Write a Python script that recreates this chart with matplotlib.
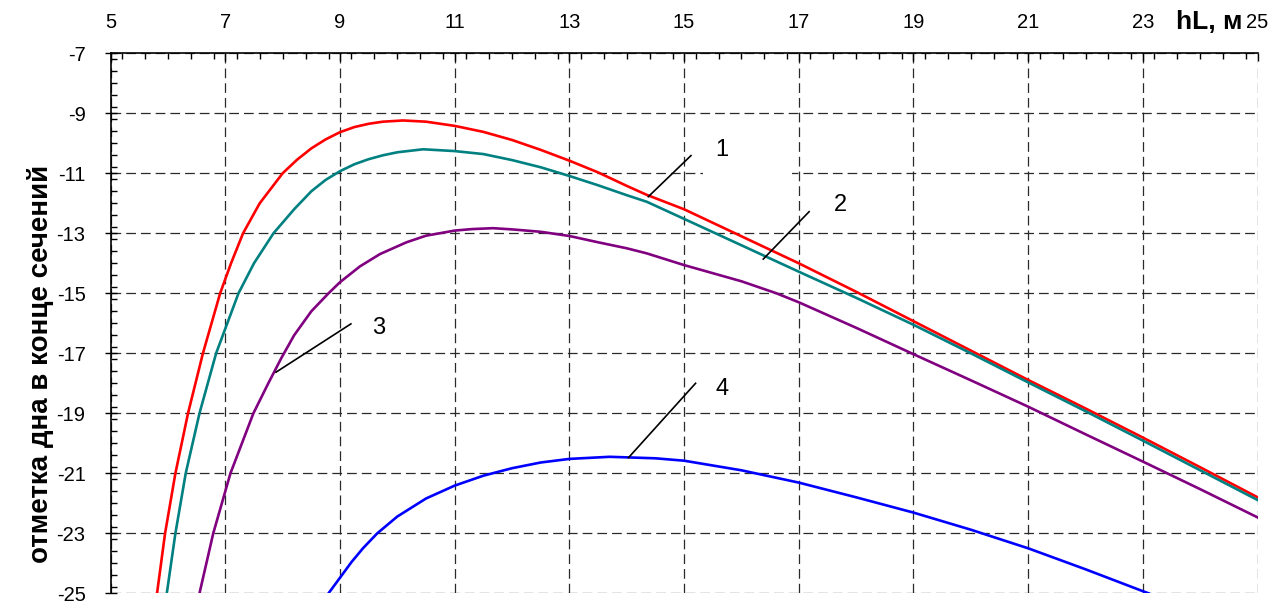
import matplotlib
matplotlib.use("Agg")
import matplotlib.pyplot as plt
from matplotlib.ticker import MultipleLocator
from matplotlib.patches import Rectangle

plt.rcParams['font.family'] = ['Liberation Sans', 'DejaVu Sans']
plt.rcParams['lines.scale_dashes'] = False
plt.rcParams['axes.unicode_minus'] = False

# ---- data ----
x1 = [5.81, 5.95, 6.13, 6.35, 6.61, 6.91, 7.1, 7.31, 7.6, 8.0, 8.25, 8.5, 8.75, 9.0, 9.25,
      9.5, 9.75, 10.1, 10.5, 11.0, 11.5, 12.0, 12.5, 13.0, 13.5, 14.0, 14.35, 15.0, 16.0,
      17.0, 18.0, 19.0, 20.0, 21.0, 22.0, 23.0, 24.0, 25.0]
y1 = [-25, -23, -21, -19, -17, -15, -14.0, -13.0, -12.0, -11.0, -10.55, -10.17, -9.87, -9.63,
      -9.46, -9.35, -9.28, -9.24, -9.28, -9.42, -9.62, -9.89, -10.22, -10.58, -10.97, -11.42,
      -11.72, -12.2, -13.1, -14.0, -14.95, -15.93, -16.91, -17.89, -18.84, -19.81, -20.8, -21.8]

x2 = [5.98, 6.13, 6.31, 6.55, 6.84, 7.23, 7.5, 7.84, 8.2, 8.5, 8.75, 9.0, 9.25, 9.5, 9.75,
      10.0, 10.45, 11.0, 11.5, 12.0, 12.5, 13.0, 13.5, 14.0, 14.35, 15.0, 16.0, 17.0, 18.0,
      19.0, 20.0, 21.0, 22.0, 23.0, 24.0, 25.0]
y2 = [-25, -23, -21, -19, -17, -15, -14.0, -13.0, -12.2, -11.6, -11.22, -10.93, -10.7, -10.53,
      -10.4, -10.3, -10.2, -10.26, -10.36, -10.56, -10.8, -11.09, -11.4, -11.73, -11.95,
      -12.52, -13.4, -14.28, -15.15, -16.05, -17.0, -17.97, -18.93, -19.91, -20.9, -21.89]

x3 = [6.55, 6.79, 7.0, 7.09, 7.3, 7.49, 7.75, 7.98, 8.2, 8.5, 8.8, 9.0, 9.35, 9.7, 10.16,
      10.5, 11.0, 11.3, 11.67, 12.0, 12.5, 13.0, 13.5, 14.0, 14.35, 15.0, 16.0, 16.61, 17.0,
      18.0, 19.0, 20.0, 21.0, 22.0, 23.0, 24.0, 25.0]
y3 = [-25, -23, -21.6, -21, -19.95, -19, -18.0, -17.15, -16.4, -15.6, -15.0, -14.63, -14.1,
      -13.69, -13.3, -13.08, -12.91, -12.86, -12.83, -12.87, -12.95, -13.09, -13.3, -13.5,
      -13.67, -14.06, -14.6, -15.0, -15.3, -16.15, -17.03, -17.9, -18.78, -19.7, -20.61,
      -21.53, -22.47]

x4 = [8.80, 9.0, 9.2, 9.4, 9.65, 10.0, 10.5, 11.0, 11.5, 12.0, 12.5, 13.0, 13.7, 14.5, 15.0,
      16.0, 17.0, 18.0, 19.0, 20.0, 21.0, 22.0, 23.0, 23.1]
y4 = [-25, -24.48, -23.96, -23.5, -23.0, -22.44, -21.84, -21.41, -21.08, -20.83, -20.64,
      -20.52, -20.45, -20.5, -20.58, -20.9, -21.31, -21.8, -22.31, -22.88, -23.5, -24.2,
      -24.93, -25.0]

series = [(x1, y1, '#ff0000'), (x2, y2, '#008080'), (x3, y3, '#800080'), (x4, y4, '#0000ff')]

labels = ['1', '2', '3', '4']
lead_start = [(14.376, -11.78), (16.38, -13.86), (7.884, -17.63), (14.03, -20.48)]
lead_end = [(15.12, -10.41), (17.18, -12.28), (9.19, -16.02), (15.20, -18.0)]
label_pos = [(15.55, -10.22), (17.62, -12.06), (9.56, -16.17), (15.54, -18.19)]

xticks = [5, 7, 9, 11, 13, 15, 17, 19, 21, 23, 25]
yticks = [-7, -9, -11, -13, -15, -17, -19, -21, -23, -25]

# ---- figure ----
fig = plt.figure(figsize=(12.83, 6.04), dpi=100)
ax = fig.add_axes([0.0862, 0.0177, 0.9802 - 0.0862, 0.9118 - 0.0177])
ax.set_xlim(5, 25)
ax.set_ylim(-25, -7)
ax.set_axisbelow(True)

for xs, ys, c in series:
    ax.plot(xs, ys, color=c, lw=1.9, solid_joinstyle='round', zorder=3)

# white text box around label 1 (breaks the grid line as in the reference)
ax.add_patch(Rectangle((15.33, -11.45), 1.55, 1.0, facecolor='white', edgecolor='none', zorder=1))

for lab, s, e, p in zip(labels, lead_start, lead_end, label_pos):
    ax.plot([s[0], e[0]], [s[1], e[1]], color='black', lw=1.2, zorder=4)
    ax.text(p[0], p[1], lab, fontsize=17, ha='left', va='center', zorder=5)

ax.xaxis.tick_top()
ax.set_xticks(xticks)
ax.set_yticks(yticks)
ax.xaxis.set_minor_locator(MultipleLocator(0.4))
ax.yaxis.set_minor_locator(MultipleLocator(0.4))
ax.tick_params(axis='x', which='major', direction='in', length=6, width=1, pad=15,
               labelsize=14.5, top=True, bottom=False)
ax.tick_params(axis='x', which='minor', direction='in', length=4.5, width=1, top=True, bottom=False)
ax.tick_params(axis='y', which='major', direction='inout', length=8, width=1, pad=14,
               labelsize=14.5)
ax.tick_params(axis='y', which='minor', direction='in', length=4.5, width=1)

ax.grid(True, which='major', color='#2a2a2a', lw=0.9, linestyle=(0, (7, 3.6)))

for side in ['right', 'bottom']:
    ax.spines[side].set_visible(False)
for side in ['left', 'top']:
    ax.spines[side].set_linewidth(1.2)
    ax.spines[side].set_color('black')

fig.text(1243 / 1283, 1 - 22 / 604, 'hL, м', fontsize=19, fontweight='bold', ha='right', va='center')
fig.text(41 / 1283, 1 - 364 / 604, 'отметка дна в конце сечений', fontsize=20, fontweight='bold',
         rotation=90, ha='center', va='center')

fig.savefig('out.png', dpi=100)
